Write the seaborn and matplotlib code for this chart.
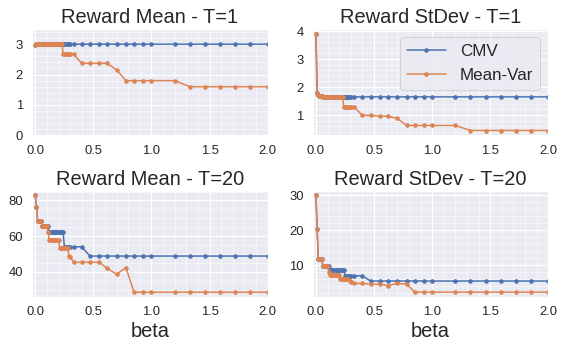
import numpy as np
import pandas as pd
import matplotlib
matplotlib.use("Agg")
import matplotlib.pyplot as plt
import seaborn as sns

beta = [0.0, 0.01, 0.02, 0.03, 0.04, 0.05, 0.06, 0.07, 0.08, 0.09,
        0.10, 0.11, 0.12, 0.13, 0.14, 0.15, 0.16, 0.17, 0.18, 0.19,
        0.20, 0.21, 0.22, 0.23, 0.24, 0.25, 0.26, 0.27, 0.28, 0.29,
        0.30, 0.33, 0.40, 0.47, 0.55, 0.62, 0.70, 0.78, 0.85, 0.93,
        1.0, 1.2, 1.33, 1.46, 1.59, 1.72, 1.85, 2.0]

methods = ["CMV", "Mean-Var"]

mean_t1_cmv = [2.96, 2.99, 3.0, 3.0, 3.0, 3.0, 3.0, 3.0, 3.0, 3.0,
               3.0, 3.0, 3.0, 3.0, 3.0, 3.0, 3.0, 3.0, 3.0, 3.0,
               3.0, 3.0, 3.0, 3.0, 3.0, 3.0, 3.0, 3.0, 3.0, 3.0,
               3.0, 3.0, 3.0, 3.0, 3.0, 3.0, 3.0, 3.0, 3.0, 3.0,
               3.0, 3.0, 3.0, 3.0, 3.0, 3.0, 3.0, 3.0]
mean_t1_mv = [2.96, 2.99, 3.0, 3.0, 3.0, 3.0, 3.0, 3.0, 3.0, 3.0,
              3.0, 3.0, 3.0, 3.0, 3.0, 3.0, 3.0, 3.0, 3.0, 3.0,
              3.0, 3.0, 3.0, 3.0, 2.67, 2.67, 2.67, 2.67, 2.67, 2.67,
              2.67, 2.67, 2.37, 2.37, 2.37, 2.37, 2.15, 1.8, 1.8, 1.8,
              1.8, 1.8, 1.6, 1.6, 1.6, 1.6, 1.6, 1.6]

std_t1_cmv = [3.9, 1.78, 1.72, 1.69, 1.68, 1.67, 1.66, 1.66, 1.65, 1.65,
              1.65, 1.65, 1.65, 1.65, 1.65, 1.65, 1.65, 1.65, 1.65, 1.65,
              1.65, 1.65, 1.65, 1.65, 1.65, 1.65, 1.65, 1.65, 1.65, 1.65,
              1.65, 1.65, 1.65, 1.65, 1.65, 1.65, 1.65, 1.65, 1.65, 1.65,
              1.65, 1.65, 1.65, 1.65, 1.65, 1.65, 1.65, 1.65]
std_t1_mv = [3.9, 1.78, 1.72, 1.69, 1.68, 1.67, 1.66, 1.66, 1.65, 1.65,
             1.65, 1.65, 1.65, 1.65, 1.65, 1.65, 1.65, 1.65, 1.65, 1.65,
             1.65, 1.65, 1.65, 1.65, 1.28, 1.28, 1.28, 1.28, 1.28, 1.28,
             1.28, 1.28, 0.99, 0.99, 0.96, 0.96, 0.88, 0.63, 0.63, 0.63,
             0.63, 0.63, 0.45, 0.45, 0.45, 0.45, 0.45, 0.45]

mean_t20_cmv = [82.8, 76.6, 68.3, 68.3, 68.3, 68.3, 65.6, 65.6, 65.6, 65.6,
                65.6, 65.6, 62.3, 62.3, 62.3, 62.3, 62.3, 62.3, 62.3, 62.3,
                62.3, 62.3, 62.3, 62.3, 62.3, 54.1, 54.1, 54.1, 54.1, 54.1,
                54.1, 54.1, 54.1, 48.9, 48.9, 48.9, 48.9, 48.9, 48.9, 48.9,
                48.9, 48.9, 48.9, 48.9, 48.9, 48.9, 48.9, 48.9]
mean_t20_mv = [82.8, 76.6, 68.3, 68.3, 68.3, 68.3, 65.6, 65.6, 65.6, 65.6,
               65.6, 62.3, 57.8, 57.8, 57.8, 57.8, 57.8, 57.8, 57.8, 57.8,
               57.8, 53.2, 53.2, 53.2, 53.2, 53.2, 53.2, 53.2, 53.2, 49.0,
               48.5, 45.4, 45.4, 45.4, 45.4, 42.0, 38.7, 42.4, 28.7, 28.7,
               28.7, 28.7, 28.7, 28.7, 28.7, 28.7, 28.7, 28.7]

std_t20_cmv = [30.0, 20.5, 11.7, 11.7, 11.7, 11.7, 9.7, 9.7, 9.7, 9.7,
               9.7, 9.7, 8.6, 8.6, 8.6, 8.6, 8.6, 8.6, 8.6, 8.6,
               8.6, 8.6, 8.6, 8.6, 8.6, 6.9, 6.9, 6.9, 6.9, 6.9,
               6.9, 6.9, 6.9, 5.4, 5.4, 5.4, 5.4, 5.4, 5.4, 5.4,
               5.4, 5.4, 5.4, 5.4, 5.4, 5.4, 5.4, 5.4]
std_t20_mv = [30.0, 20.5, 11.7, 11.7, 11.7, 11.7, 9.7, 9.7, 9.7, 9.7,
              9.7, 8.1, 7.1, 7.1, 7.1, 7.1, 7.1, 7.1, 7.1, 7.1,
              7.1, 6.0, 6.0, 6.0, 6.0, 6.0, 6.0, 6.0, 6.0, 5.5,
              5.2, 4.7, 4.7, 4.5, 4.5, 4.1, 4.7, 4.5, 2.2, 2.2,
              2.2, 2.2, 2.2, 2.2, 2.2, 2.2, 2.2, 2.2]

titles = ["Reward Mean - T=1", "Reward StDev - T=1",
          "Reward Mean - T=20", "Reward StDev - T=20"]
series = [(mean_t1_cmv, mean_t1_mv), (std_t1_cmv, std_t1_mv),
          (mean_t20_cmv, mean_t20_mv), (std_t20_cmv, std_t20_mv)]

sns.set_theme(style="darkgrid", context="notebook")
plt.rcParams["font.family"] = ["Liberation Sans", "DejaVu Sans"]

fig, axes = plt.subplots(2, 2, figsize=(564 / 72, 348 / 72), dpi=72)
fig.subplots_adjust(left=0.0574, right=0.9722, top=0.9167, bottom=0.1466,
                    wspace=0.193, hspace=0.52)
palette = sns.color_palette("deep", 2)

for i, ax in enumerate(axes.flat):
    cmv, mv = series[i]
    df = pd.DataFrame({
        "beta": beta + beta,
        "value": list(cmv) + list(mv),
        "method": [methods[0]] * len(beta) + [methods[1]] * len(beta),
    })
    sns.lineplot(data=df, x="beta", y="value", hue="method", palette=palette,
                 marker=".", markersize=7, estimator=None, sort=False,
                 legend=False, ax=ax)
    for ln in ax.lines:
        ln.set_markeredgecolor(ln.get_color())
        ln.set_markeredgewidth(1)
    ax.set_title(titles[i], fontsize=20)
    ax.set_ylabel("")
    ax.set_xlabel("beta" if i >= 2 else "", fontsize=20)
    ax.tick_params(axis="both", which="major", labelsize=13)
    ax.set_xlim(-0.025, 2.0)
    if i == 0:
        ax.set_ylim(0, 3.5)
    ax.minorticks_on()
    ax.grid(which="major", color="white", linewidth=1.2)
    ax.grid(which="minor", color="white", linewidth=0.5)
    if i == 1:
        ax.legend(ax.lines[:2], methods, loc="upper right", fontsize=17,
                  handlelength=2.3)

fig.savefig("out.png", dpi=72)
